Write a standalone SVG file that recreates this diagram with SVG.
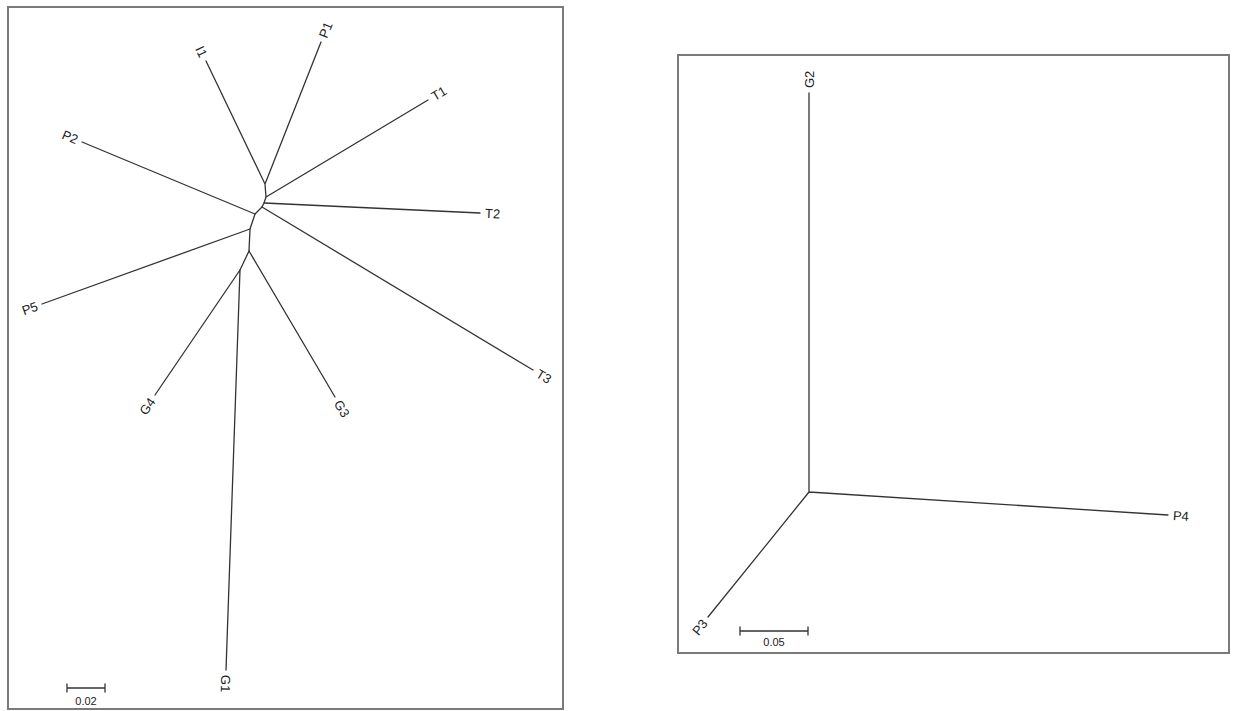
<svg xmlns="http://www.w3.org/2000/svg" width="1236" height="711" viewBox="0 0 1236 711">
<style>
.frame{fill:none;stroke:#7a7a7a;stroke-width:2}
.edge{fill:none;stroke:#333;stroke-width:1.3;stroke-linecap:round;stroke-linejoin:round}
.lab{font-family:"Liberation Sans",Arial,sans-serif;font-size:13px;fill:#222}
.sc{font-family:"Liberation Sans",Arial,sans-serif;font-size:11px;fill:#222;text-anchor:middle}
</style>
<rect width="1236" height="711" fill="#fff"/>
<rect class="frame" x="8" y="7" width="555" height="702"/>
<rect class="frame" x="678" y="55" width="551" height="598"/>
<g id="connectors">
  <path class="edge" d="M206,61 L265,184 M321,42 L265,184 L266,197 L264,203 L262,207 L255,214 L250,229 L249,251 L240,270"/>
  <path class="edge" d="M266,197 L428,100 M264,203 L480,213 M262,207 L533,370 M255,214 L82,142 M250,229 L42,304 M249,251 L335,397 M240,270 L155,395 M240,270 L226,670"/>
  <path class="edge" d="M809,93 L809,492 L1168,515 M809,492 L708,617"/>
</g>
<g id="node-I1"><text class="lab" transform="translate(206,61) rotate(64.4)" x="-5" dy="0.35em" text-anchor="end">I1</text></g>
<g id="node-P1"><text class="lab" transform="translate(321,42) rotate(-68.5)" x="5" dy="0.35em">P1</text></g>
<g id="node-T1"><text class="lab" transform="translate(428,100) rotate(-30.9)" x="5" dy="0.35em">T1</text></g>
<g id="node-T2"><text class="lab" transform="translate(480,213) rotate(2.7)" x="5" dy="0.35em">T2</text></g>
<g id="node-T3"><text class="lab" transform="translate(533,370) rotate(30.9)" x="5" dy="0.35em">T3</text></g>
<g id="node-P2"><text class="lab" transform="translate(82,142) rotate(22.6)" x="-5" dy="0.35em" text-anchor="end">P2</text></g>
<g id="node-P5"><text class="lab" transform="translate(42,304) rotate(-19.8)" x="-5" dy="0.35em" text-anchor="end">P5</text></g>
<g id="node-G3"><text class="lab" transform="translate(335,397) rotate(59.5)" x="5" dy="0.35em">G3</text></g>
<g id="node-G4"><text class="lab" transform="translate(155,395) rotate(-55.8)" x="-5" dy="0.35em" text-anchor="end">G4</text></g>
<g id="node-G1"><text class="lab" transform="translate(226,670) rotate(92)" x="5" dy="0.35em">G1</text></g>
<g id="node-G2"><text class="lab" transform="translate(809,93) rotate(-90)" x="5" dy="0.35em">G2</text></g>
<g id="node-P4"><text class="lab" transform="translate(1168,515) rotate(3.7)" x="5" dy="0.35em">P4</text></g>
<g id="node-P3"><text class="lab" transform="translate(708,617) rotate(-51.1)" x="-5" dy="0.35em" text-anchor="end">P3</text></g>
<g id="scale-left">
  <path class="edge" d="M67,688 H105 M67,684 V692 M105,684 V692"/>
  <text class="sc" x="86" y="705">0.02</text>
</g>
<g id="scale-right">
  <path class="edge" d="M740,631 H808 M740,627 V635 M808,627 V635"/>
  <text class="sc" x="774" y="646">0.05</text>
</g>
</svg>
